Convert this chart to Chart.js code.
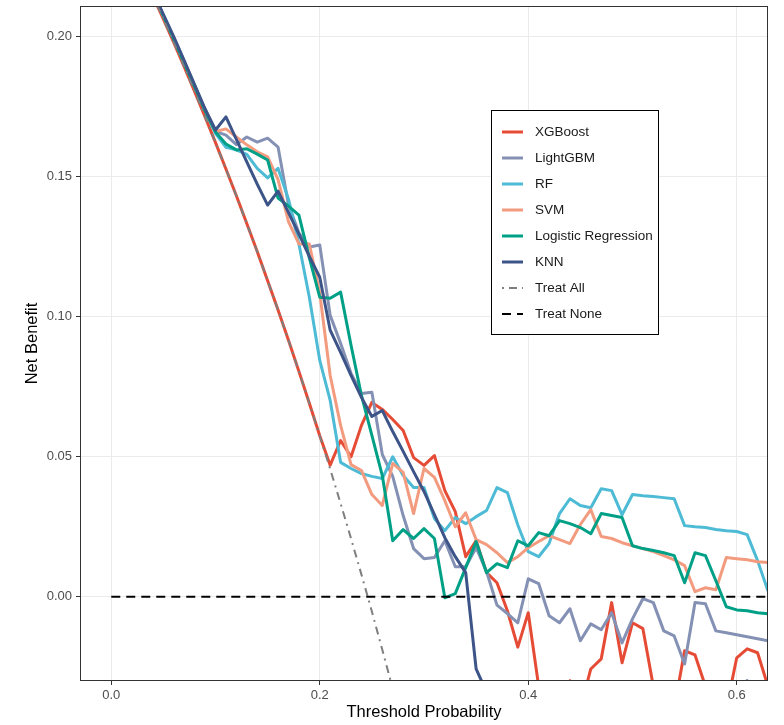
<!DOCTYPE html>
<html>
<head>
<meta charset="utf-8">
<script src="https://cdn.jsdelivr.net/npm/chart.js@4.4.1/dist/chart.umd.min.js"></script>
<style>
  html, body { margin: 0; padding: 0; background: #fff; }
  #wrap { width: 784px; height: 725px; }
</style>
</head>
<body>
<div id="wrap"><canvas id="dcaChart"></canvas></div>
<script>
// threshold grid for the model curves
const thresholds = [0.03, 0.04, 0.05, 0.06, 0.07, 0.08, 0.09, 0.10, 0.11, 0.12,
  0.13, 0.14, 0.15, 0.16, 0.17, 0.18, 0.19, 0.20, 0.21, 0.22,
  0.23, 0.24, 0.25, 0.26, 0.27, 0.28, 0.29, 0.30, 0.31, 0.32,
  0.33, 0.34, 0.35, 0.36, 0.37, 0.38, 0.39, 0.40, 0.41, 0.42,
  0.43, 0.44, 0.45, 0.46, 0.47, 0.48, 0.49, 0.50, 0.51, 0.52,
  0.53, 0.54, 0.55, 0.56, 0.57, 0.58, 0.59, 0.60, 0.61, 0.62, 0.63];

const xgboost = [0.2227, 0.2146, 0.2063, 0.1979, 0.1892, 0.1804, 0.1714, 0.1622, 0.1528, 0.1432,
  0.1333, 0.1233, 0.1129, 0.1024, 0.0916, 0.0805, 0.0691, 0.0575, 0.0470, 0.0558,
  0.0500, 0.0612, 0.0694, 0.0669, 0.0633, 0.0594, 0.0497, 0.0469, 0.0504, 0.0379,
  0.0304, 0.0143, 0.0200, 0.0086, 0.0050, -0.0050, -0.0180, -0.0057, -0.0320, -0.0450,
  -0.0400, -0.0300, -0.0400, -0.0258, -0.0222, -0.0021, -0.0236, -0.0093, -0.0114, -0.0320,
  -0.0450, -0.0400, -0.0193, -0.0208, -0.0320, -0.0450, -0.0400, -0.0218, -0.0186, -0.0200, -0.0320];

const lightgbm = [0.2235, 0.2155, 0.2075, 0.1995, 0.1910, 0.1825, 0.1740, 0.1662, 0.1649, 0.1615,
  0.1642, 0.1624, 0.1638, 0.1606, 0.1400, 0.1300, 0.1249, 0.1256, 0.1005, 0.0905,
  0.0798, 0.0726, 0.0730, 0.0508, 0.0430, 0.0290, 0.0172, 0.0136, 0.0140, 0.0200,
  0.0107, 0.0107, 0.0175, 0.0090, -0.0030, -0.0060, -0.0093, 0.0064, 0.0047, -0.0068,
  -0.0093, -0.0043, -0.0157, -0.0097, -0.0118, -0.0057, -0.0165, -0.0079, -0.0007, -0.0021,
  -0.0122, -0.0140, -0.0240, -0.0021, -0.0025, -0.0122, -0.0129, -0.0136, -0.0143, -0.0150, -0.0157];

const rf = [0.2235, 0.2155, 0.2075, 0.1995, 0.1910, 0.1825, 0.1740, 0.1655, 0.1605, 0.1596,
  0.1580, 0.1530, 0.1496, 0.1530, 0.1420, 0.1260, 0.1070, 0.0844, 0.0701, 0.0480,
  0.0458, 0.0440, 0.0430, 0.0422, 0.0500, 0.0433, 0.0390, 0.0390, 0.0279, 0.0236,
  0.0283, 0.0261, 0.0286, 0.0308, 0.0390, 0.0372, 0.0256, 0.0161, 0.0143, 0.0190,
  0.0297, 0.0350, 0.0326, 0.0318, 0.0386, 0.0379, 0.0293, 0.0365, 0.0361, 0.0358,
  0.0354, 0.0350, 0.0254, 0.0250, 0.0247, 0.0240, 0.0236, 0.0233, 0.0222, 0.0129, 0.0020];

const svm = [0.2235, 0.2155, 0.2075, 0.1995, 0.1910, 0.1825, 0.1740, 0.1662, 0.1671, 0.1642,
  0.1614, 0.1589, 0.1571, 0.1490, 0.1340, 0.1260, 0.1260, 0.1084, 0.0790, 0.0612,
  0.0472, 0.0451, 0.0365, 0.0326, 0.0476, 0.0444, 0.0297, 0.0458, 0.0426, 0.0343,
  0.0250, 0.0300, 0.0204, 0.0186, 0.0157, 0.0122, 0.0143, 0.0175, 0.0197, 0.0218,
  0.0204, 0.0190, 0.0258, 0.0311, 0.0215, 0.0208, 0.0193, 0.0182, 0.0172, 0.0161,
  0.0147, 0.0132, 0.0111, 0.0018, 0.0032, 0.0025, 0.0140, 0.0136, 0.0132, 0.0125, 0.0122];

const logistic = [0.2235, 0.2155, 0.2075, 0.1990, 0.1905, 0.1820, 0.1735, 0.1660, 0.1617, 0.1596,
  0.1600, 0.1581, 0.1560, 0.1424, 0.1395, 0.1363, 0.1210, 0.1070, 0.1066, 0.1088,
  0.0898, 0.0719, 0.0576, 0.0433, 0.0200, 0.0240, 0.0208, 0.0243, 0.0208, -0.0004,
  0.0011, 0.0104, 0.0197, 0.0086, 0.0118, 0.0104, 0.0200, 0.0182, 0.0229, 0.0218,
  0.0272, 0.0261, 0.0247, 0.0225, 0.0297, 0.0290, 0.0283, 0.0182, 0.0172, 0.0165,
  0.0157, 0.0147, 0.0050, 0.0157, 0.0147, 0.0057, -0.0036, -0.0047, -0.0050, -0.0057, -0.0061];

const knn = [0.2240, 0.2160, 0.2080, 0.2000, 0.1915, 0.1828, 0.1742, 0.1667, 0.1714, 0.1634,
  0.1553, 0.1474, 0.1399, 0.1449, 0.1372, 0.1295, 0.1216, 0.1141, 0.0952, 0.0873,
  0.0791, 0.0712, 0.0644, 0.0665, 0.0590, 0.0519, 0.0447, 0.0376, 0.0293, 0.0211,
  0.0143, 0.0086, -0.0258, -0.0340, -0.0450, -0.0500, -0.0550, -0.0600, -0.0580, -0.0600,
  -0.0620, -0.0580, -0.0600, -0.0550, -0.0500, -0.0480, -0.0500, -0.0450, -0.0400, -0.0420,
  -0.0450, -0.0400, -0.0420, -0.0380, -0.0400, -0.0360, -0.0350, -0.0320, -0.0300, -0.0340, -0.0380];

// reference strategies
const treatAllX = [0.00, 0.01, 0.02, 0.03, 0.04, 0.05, 0.06, 0.07, 0.08, 0.09,
  0.10, 0.11, 0.12, 0.13, 0.14, 0.15, 0.16, 0.17, 0.18, 0.19,
  0.20, 0.21, 0.22, 0.23, 0.24, 0.25, 0.26, 0.27, 0.28, 0.29];
const treatAll = [0.2460, 0.2384, 0.2306, 0.2227, 0.2146, 0.2063, 0.1979, 0.1892, 0.1804, 0.1714,
  0.1622, 0.1528, 0.1432, 0.1333, 0.1233, 0.1129, 0.1024, 0.0916, 0.0805, 0.0691,
  0.0575, 0.0456, 0.0333, 0.0208, 0.0079, -0.0053, -0.0189, -0.0329, -0.0472, -0.0620];
const treatNoneX = [0.00, 0.65];
const treatNone = [0, 0];

const xTicks = [0.0, 0.2, 0.4, 0.6];
const yTicks = [0.00, 0.05, 0.10, 0.15, 0.20];

const pts = (xs, ys) => xs.map((x, i) => ({ x: x, y: ys[i] }));

Chart.defaults.font.family = "'Liberation Sans', Arial, sans-serif";

function modelLine(label, ys, color, order) {
  return {
    label: label,
    data: pts(thresholds, ys),
    borderColor: color,
    borderWidth: 3,
    pointRadius: 0,
    tension: 0,
    borderJoinStyle: 'round',
    clip: 0,
    order: order
  };
}

const datasets = [
  modelLine('XGBoost', xgboost, '#E64B35', 8),
  modelLine('LightGBM', lightgbm, '#8491B4', 7),
  modelLine('RF', rf, '#4DBBD5', 6),
  modelLine('SVM', svm, '#F39B7F', 5),
  modelLine('Logistic Regression', logistic, '#00A087', 4),
  modelLine('KNN', knn, '#3C5488', 3),
  {
    label: 'Treat All',
    data: pts(treatAllX, treatAll),
    borderColor: '#7F7F7F',
    borderWidth: 2,
    borderDash: [2, 5, 8, 5],
    pointRadius: 0,
    clip: 0,
    order: 2
  },
  {
    label: 'Treat None',
    data: pts(treatNoneX, treatNone),
    borderColor: '#000000',
    borderWidth: 2,
    borderDash: [9, 6],
    pointRadius: 0,
    clip: 0,
    order: 1
  }
];

// panel border all around
const panelFrame = {
  id: 'panelFrame',
  afterDatasetsDraw(chart) {
    const a = chart.chartArea;
    const ctx = chart.ctx;
    ctx.save();
    ctx.strokeStyle = '#333333';
    ctx.lineWidth = 1;
    ctx.strokeRect(Math.round(a.left) + 0.5, Math.round(a.top) + 0.5,
      Math.round(a.right - a.left) - 1, Math.round(a.bottom - a.top) - 1);
    ctx.restore();
  }
};

// boxed legend inside the panel
const insideLegend = {
  id: 'insideLegend',
  afterDraw(chart) {
    const ctx = chart.ctx;
    ctx.save();
    ctx.fillStyle = '#ffffff';
    ctx.fillRect(491.5, 110.5, 167, 224);
    ctx.strokeStyle = '#000000';
    ctx.lineWidth = 1;
    ctx.strokeRect(491.5, 110.5, 167, 224);
    ctx.font = "13.5px 'Liberation Sans', Arial, sans-serif";
    ctx.textBaseline = 'middle';
    chart.data.datasets.forEach((ds, i) => {
      const y = 132 + 26 * i;
      ctx.beginPath();
      ctx.strokeStyle = ds.borderColor;
      ctx.lineWidth = ds.borderWidth;
      ctx.setLineDash(ds.borderDash || []);
      ctx.moveTo(502, y);
      ctx.lineTo(523, y);
      ctx.stroke();
      ctx.setLineDash([]);
      ctx.fillStyle = '#1a1a1a';
      ctx.fillText(ds.label, 535, y + 0.5);
    });
    ctx.restore();
  }
};

new Chart(document.getElementById('dcaChart'), {
  type: 'line',
  data: { datasets: datasets },
  options: {
    responsive: true,
    maintainAspectRatio: false,
    animation: false,
    layout: { padding: { top: 6, right: 16, bottom: 0, left: 0 } },
    plugins: {
      legend: { display: false },
      tooltip: { enabled: false }
    },
    scales: {
      x: {
        type: 'linear',
        min: -0.03,
        max: 0.63,
        afterBuildTicks: s => { s.ticks = xTicks.map(v => ({ value: v })); },
        afterFit: s => { s.height = 44; s.paddingLeft = 0; s.paddingRight = 0; },
        ticks: {
          callback: v => v.toFixed(1),
          color: '#4D4D4D',
          font: { size: 13 },
          padding: 3,
          maxRotation: 0
        },
        grid: { color: '#EBEBEB', lineWidth: 1, tickLength: 4, tickColor: '#333333' },
        border: { display: false },
        title: {
          display: true,
          text: 'Threshold Probability',
          color: '#000000',
          font: { size: 16.5 },
          padding: { top: 0, bottom: 3 }
        }
      },
      y: {
        type: 'linear',
        min: -0.0301,
        max: 0.211,
        afterBuildTicks: s => { s.ticks = yTicks.map(v => ({ value: v })); },
        afterFit: s => { s.width = 80; s.paddingTop = 0; s.paddingBottom = 0; },
        ticks: {
          callback: v => v.toFixed(2),
          color: '#4D4D4D',
          font: { size: 13 },
          padding: 4
        },
        grid: { color: '#EBEBEB', lineWidth: 1, tickLength: 4, tickColor: '#333333' },
        border: { display: false },
        title: {
          display: true,
          text: 'Net Benefit',
          color: '#000000',
          font: { size: 16.5 },
          padding: { top: 23, bottom: 0 }
        }
      }
    }
  },
  plugins: [panelFrame, insideLegend]
});
</script>
</body>
</html>
